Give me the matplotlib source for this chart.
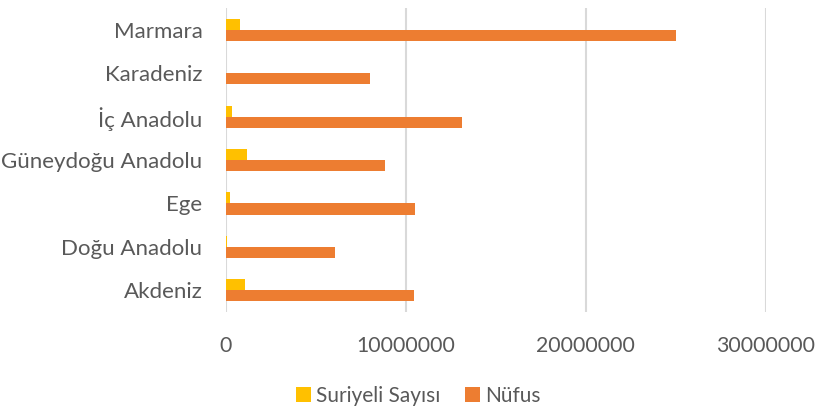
import matplotlib
matplotlib.use("Agg")
import matplotlib.pyplot as plt
import numpy as np

categories = ["Akdeniz", "Doğu Anadolu", "Ege", "Güneydoğu Anadolu", "İç Anadolu", "Karadeniz", "Marmara"]
suriyeli = [1040000, 30000, 200000, 1150000, 320000, 20000, 760000]
nufus = [10460000, 6050000, 10520000, 8850000, 13100000, 7980000, 25000000]
series_names = ["Suriyeli Sayısı", "Nüfus"]
xticks = [0, 10000000, 20000000, 30000000]

plt.rcParams['font.family'] = ['Lato', 'DejaVu Sans']
fig = plt.figure(figsize=(8.15, 4.09), dpi=100)
ax = fig.add_axes([0.2773, 0.2372, 0.662, 0.743])

y = np.arange(len(categories))
h = 0.255
ax.barh(y + h / 2, suriyeli, height=h, color="#FFC000", label=series_names[0])
ax.barh(y - h / 2, nufus, height=h, color="#ED7D31", label=series_names[1])

ax.set_xlim(0, 30000000)
ax.set_ylim(-0.5, len(categories) - 0.5)
ax.set_xticks(xticks)
ax.set_xticklabels([str(v) for v in xticks])
ax.set_yticks(y)
ax.set_yticklabels(categories)
ax.tick_params(axis='both', length=0, colors="#595959")
ax.tick_params(axis='x', pad=17, labelsize=15.3)
ax.tick_params(axis='y', pad=17, labelsize=16)
ax.xaxis.grid(True, color="#D9D9D9", linewidth=1.5)
ax.set_axisbelow(True)
for s in ax.spines.values():
    s.set_visible(False)

leg = fig.legend(loc="center", bbox_to_anchor=(0.5135, 1 - 396 / 409), ncol=2, frameon=False,
                 fontsize=15, handlelength=0.7, handleheight=0.7, handletextpad=0.25,
                 columnspacing=1.2, borderpad=0)
for t in leg.get_texts():
    t.set_color("#595959")

fig.savefig("out.png", dpi=100)
